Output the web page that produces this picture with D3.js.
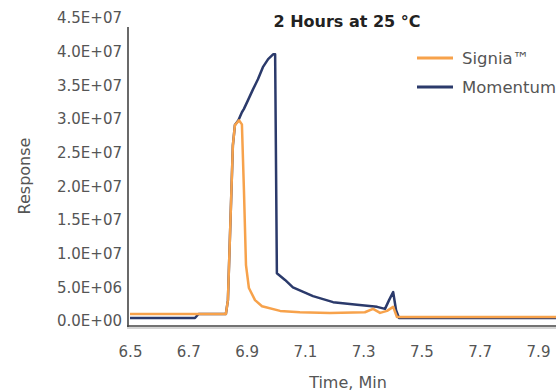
<!DOCTYPE html>
<html>
<head>
<meta charset="utf-8">
<script src="https://cdn.jsdelivr.net/npm/d3@7"></script>
<style>
  body { margin: 0; background: #fff; }
  svg { display: block; }
</style>
</head>
<body>
<div id="main"></div>
<script>
// time (min) and response values
const signiaTime = [6.5, 6.723, 6.829, 6.836, 6.847, 6.853, 6.860, 6.874, 6.884, 6.891, 6.898, 6.908, 6.929, 6.953, 7.015, 7.083, 7.186, 7.306, 7.334, 7.358, 7.382, 7.403, 7.416, 7.632, 7.962]
const signiaResp = [1.04e6, 1.04e6, 1.04e6, 3.1e6, 1.8e7, 2.61e7, 2.91e7, 2.98e7, 2.92e7, 1.94e7, 8.3e6, 4.9e6, 3.1e6, 2.2e6, 1.5e6, 1.3e6, 1.2e6, 1.3e6, 1.8e6, 1.2e6, 1.5e6, 2.1e6, 0.6e6, 0.6e6, 0.6e6]

const momTime = [6.5, 6.723, 6.735, 6.829, 6.836, 6.847, 6.853, 6.860, 6.872, 6.884, 6.891, 6.905, 6.922, 6.939, 6.956, 6.974, 6.991, 6.998, 7.004, 7.032, 7.059, 7.128, 7.197, 7.279, 7.348, 7.375, 7.389, 7.403, 7.413, 7.423, 7.962]
const momResp = [0.45e6, 0.45e6, 1.04e6, 1.04e6, 3.1e6, 1.8e7, 2.61e7, 2.91e7, 2.98e7, 3.1e7, 3.15e7, 3.28e7, 3.44e7, 3.59e7, 3.77e7, 3.89e7, 3.96e7, 3.96e7, 7.1e6, 6.1e6, 5.0e6, 3.7e6, 2.8e6, 2.4e6, 2.1e6, 1.8e6, 3.1e6, 4.3e6, 1.6e6, 0.45e6, 0.45e6]

const xTicks = [6.5, 6.7, 6.9, 7.1, 7.3, 7.5, 7.7, 7.9]
const yTicks = [0, 5e6, 1e7, 1.5e7, 2e7, 2.5e7, 3e7, 3.5e7, 4e7, 4.5e7]
const yTickLabels = ["0.0E+00", "5.0E+06", "1.0E+07", "1.5E+07", "2.0E+07", "2.5E+07", "3.0E+07", "3.5E+07", "4.0E+07", "4.5E+07"]
const seriesNames = ["Signia\u2122", "Momentum"]

const W = 556, H = 391
const font = "'DejaVu Sans', sans-serif"
const colors = ["#f7a24b", "#2b3a6b"]

let svg = d3.select("#main").append("svg")
    .attr("width", W)
    .attr("height", H)

let scX = d3.scaleLinear().domain([6.5, 7.9]).range([130, 538])
let scY = d3.scaleLinear().domain([0, 4.5e7]).range([321, 18])
let axisY0 = 326

// axes
let yAxis = d3.axisLeft(scY).tickValues(yTicks)
    .tickFormat((d, i) => yTickLabels[i])
    .tickSize(0).tickPadding(6)
let gy = svg.append("g").attr("transform", "translate(128,0)").call(yAxis)
gy.select(".domain").remove()
gy.selectAll("text")
    .attr("font-family", font).attr("font-size", 15).attr("fill", "#555")

let xAxis = d3.axisBottom(scX).tickValues(xTicks)
    .tickFormat(d3.format(".1f")).tickSize(0)
let gx = svg.append("g").attr("transform", `translate(0,${axisY0})`).call(xAxis)
gx.select(".domain").remove()
gx.selectAll("text")
    .attr("y", 26).attr("dy", "0.35em")
    .attr("font-family", font).attr("font-size", 15).attr("fill", "#555")

svg.append("line")
    .attr("x1", 128).attr("x2", 128)
    .attr("y1", 27).attr("y2", axisY0 + 1)
    .attr("stroke", "#444").attr("stroke-width", 1.6)
svg.append("line")
    .attr("x1", 127).attr("x2", W)
    .attr("y1", axisY0).attr("y2", axisY0)
    .attr("stroke", "#444").attr("stroke-width", 1.6)
svg.append("line")
    .attr("x1", 127).attr("x2", W)
    .attr("y1", axisY0 + 2).attr("y2", axisY0 + 2)
    .attr("stroke", "#aaa").attr("stroke-width", 1)

// lines, momentum under signia
let makeLine = (t) => d3.line()
    .x((d, i) => scX(t[i]))
    .y(d => scY(d))

svg.append("path")
    .attr("d", makeLine(momTime)(momResp))
    .attr("fill", "none")
    .attr("stroke", colors[1])
    .attr("stroke-width", 2.5)
    .attr("stroke-linejoin", "round")
svg.append("path")
    .attr("d", makeLine(signiaTime)(signiaResp))
    .attr("fill", "none")
    .attr("stroke", colors[0])
    .attr("stroke-width", 2.5)
    .attr("stroke-linejoin", "round")

// title & labels
svg.append("text")
    .attr("x", 347).attr("y", 27)
    .attr("text-anchor", "middle")
    .attr("font-family", font).attr("font-size", 16).attr("font-weight", "bold")
    .attr("fill", "#222")
    .text("2 Hours at 25 \u00b0C")

svg.append("text")
    .attr("x", 348).attr("y", 388)
    .attr("text-anchor", "middle")
    .attr("font-family", font).attr("font-size", 16).attr("fill", "#555")
    .text("Time, Min")

svg.append("text")
    .attr("transform", "translate(30,176) rotate(-90)")
    .attr("text-anchor", "middle")
    .attr("font-family", font).attr("font-size", 16).attr("fill", "#555")
    .text("Response")

// legend
seriesNames.forEach((name, idx) => {
    let ly = 58 + idx * 29
    svg.append("line")
        .attr("x1", 417).attr("x2", 453)
        .attr("y1", ly).attr("y2", ly)
        .attr("stroke", colors[idx]).attr("stroke-width", 3)
    svg.append("text")
        .attr("x", 462).attr("y", ly).attr("dy", "0.35em")
        .attr("font-family", font).attr("font-size", 16.5).attr("fill", "#555")
        .text(name)
})
</script>
</body>
</html>
